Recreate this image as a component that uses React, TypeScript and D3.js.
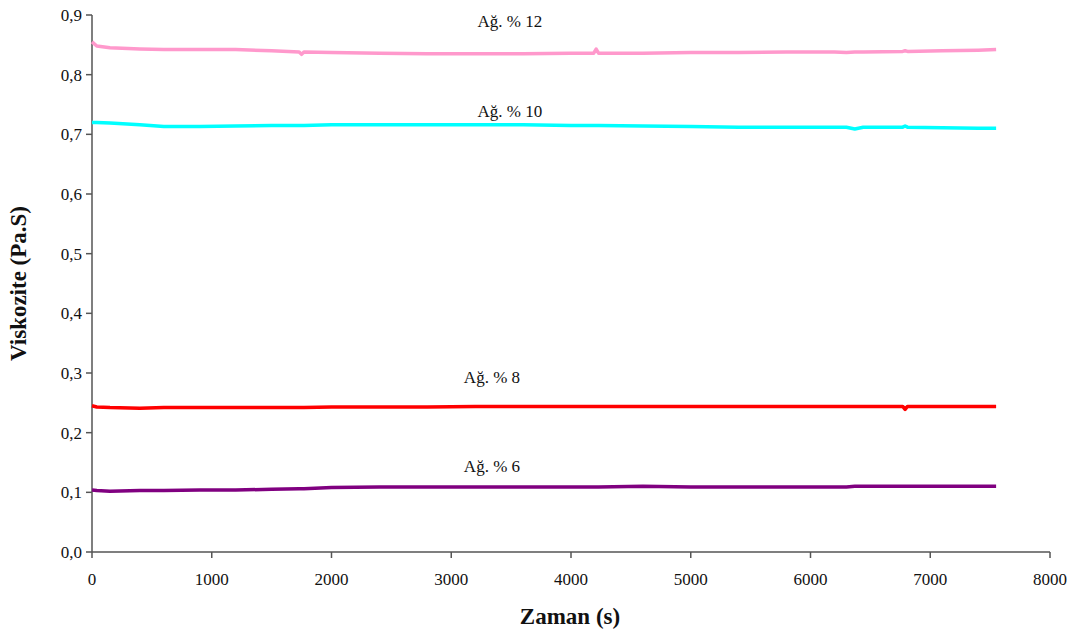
import React from 'react';
import * as d3 from 'd3';

const timeS = [0, 40, 150, 400, 600, 900, 1200, 1500, 1730, 1750, 1770, 2000, 2400, 2800, 3200, 3600, 4000, 4190, 4210, 4230, 4600, 5000, 5400, 5800, 6200, 6300, 6370, 6440, 6770, 6790, 6810, 7100, 7400, 7550];

const ag12 = [0.855, 0.848, 0.845, 0.843, 0.842, 0.842, 0.842, 0.840, 0.838, 0.834, 0.838, 0.837, 0.836, 0.835, 0.835, 0.835, 0.836, 0.836, 0.843, 0.836, 0.836, 0.837, 0.837, 0.838, 0.838, 0.837, 0.838, 0.838, 0.839, 0.840, 0.839, 0.840, 0.841, 0.842];
const ag10 = [0.720, 0.720, 0.719, 0.716, 0.713, 0.713, 0.714, 0.715, 0.715, 0.715, 0.715, 0.716, 0.716, 0.716, 0.716, 0.716, 0.715, 0.715, 0.715, 0.715, 0.714, 0.713, 0.712, 0.712, 0.712, 0.712, 0.709, 0.712, 0.712, 0.714, 0.712, 0.711, 0.710, 0.710];
const ag8 = [0.245, 0.243, 0.242, 0.241, 0.242, 0.242, 0.242, 0.242, 0.242, 0.242, 0.242, 0.243, 0.243, 0.243, 0.244, 0.244, 0.244, 0.244, 0.244, 0.244, 0.244, 0.244, 0.244, 0.244, 0.244, 0.244, 0.244, 0.244, 0.244, 0.239, 0.244, 0.244, 0.244, 0.244];
const ag6 = [0.104, 0.103, 0.102, 0.103, 0.103, 0.104, 0.104, 0.105, 0.106, 0.106, 0.106, 0.108, 0.109, 0.109, 0.109, 0.109, 0.109, 0.109, 0.109, 0.109, 0.110, 0.109, 0.109, 0.109, 0.109, 0.109, 0.110, 0.110, 0.110, 0.110, 0.110, 0.110, 0.110, 0.110];

const seriesNames = ['Ağ. % 12', 'Ağ. % 10', 'Ağ. % 8', 'Ağ. % 6'];
const seriesValues = [ag12, ag10, ag8, ag6];
const seriesColors = ['#ff99cc', '#00ffff', '#ff0000', '#800080'];
// label anchor in data units (x centre, y baseline)
const labelTime = [3490, 3490, 3340, 3340];
const labelVisc = [0.880, 0.729, 0.283, 0.134];

const xTicks = [0, 1000, 2000, 3000, 4000, 5000, 6000, 7000, 8000];
const yTicks = [0, 0.1, 0.2, 0.3, 0.4, 0.5, 0.6, 0.7, 0.8, 0.9];

const W = 1077;
const H = 633;
const margin = { top: 15, right: 27, bottom: 81, left: 92 };

export default function App() {
  const x = d3.scaleLinear().domain([0, 8000]).range([margin.left, W - margin.right]);
  const y = d3.scaleLinear().domain([0, 0.9]).range([H - margin.bottom, margin.top]);
  const line = d3.line<number>()
    .x((_, i) => x(timeS[i]))
    .y((d) => y(d));
  const axisColor = '#555';
  const font = '"Liberation Serif", "Times New Roman", serif';

  return (
    <svg width={W} height={H} style={{ position: 'absolute', left: 0, top: 0, background: '#fff' }} fontFamily={font}>
      {/* y axis */}
      <line x1={x(0)} x2={x(0)} y1={y(0)} y2={y(0.9)} stroke={axisColor} strokeWidth={1.5} />
      {yTicks.map((t) => (
        <g key={t}>
          <line x1={x(0) - 6} x2={x(0)} y1={y(t)} y2={y(t)} stroke={axisColor} strokeWidth={1.5} />
          <text x={x(0) - 10} y={y(t)} dy="0.35em" textAnchor="end" fontSize={17} fill="#111">
            {d3.format('.1f')(t).replace('.', ',')}
          </text>
        </g>
      ))}
      {/* x axis */}
      <line x1={x(0)} x2={x(8000)} y1={y(0)} y2={y(0)} stroke={axisColor} strokeWidth={1.5} />
      {xTicks.map((t) => (
        <g key={t}>
          <line x1={x(t)} x2={x(t)} y1={y(0)} y2={y(0) + 6} stroke={axisColor} strokeWidth={1.5} />
          <text x={x(t)} y={y(0) + 33} textAnchor="middle" fontSize={17} fill="#111">
            {t}
          </text>
        </g>
      ))}
      {seriesValues.map((vals, i) => (
        <path key={seriesNames[i]} d={line(vals) ?? ''} fill="none" stroke={seriesColors[i]} strokeWidth={3.5} strokeLinejoin="round" />
      ))}
      {seriesNames.map((name, i) => (
        <text key={name} x={x(labelTime[i])} y={y(labelVisc[i])} textAnchor="middle" fontSize={17} fill="#111">
          {name}
        </text>
      ))}
      <text x={570} y={624} textAnchor="middle" fontSize={23} fontWeight="bold" fill="#111">
        Zaman (s)
      </text>
      <text transform={`translate(26, ${(y(0) + y(0.9)) / 2}) rotate(-90)`} textAnchor="middle" fontSize={23} fontWeight="bold" fill="#111">
        Viskozite (Pa.S)
      </text>
    </svg>
  );
}
